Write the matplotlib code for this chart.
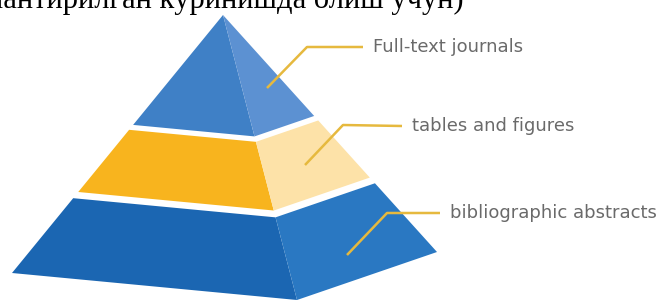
import matplotlib.pyplot as plt
import numpy as np

# pyramid outline (pixel space of the picture, y grows downward)
apex = (223, 15)
base_left = (12, 273)
base_mid = (297, 300)
base_right = (437, 252)

# tiers, top to bottom: fraction of the height from apex
tier_names = ["Full-text journals", "tables and figures", "bibliographic abstracts"]
tier_start = [0.0, 0.445, 0.71]
tier_end = [0.426, 0.686, 1.0]
left_colors = ["#3f80c6", "#f8b41e", "#1b66b2"]
right_colors = ["#5c91d2", "#fde2a8", "#2a78c2"]

# connector lines: start on face -> elbow -> end of horizontal
conn_start = [(267, 88), (305, 165), (347, 255)]
conn_elbow = [(307, 47), (343, 125), (387, 213)]
conn_end = [(363, 47), (402, 126), (440, 213)]

heading = "лантирилган кўринишда олиш учун)"


def lerp(p, q, t):
    return (p[0] + (q[0] - p[0]) * t, p[1] + (q[1] - p[1]) * t)


fig = plt.figure(figsize=(6.72, 3.03), dpi=100)
ax = fig.add_axes([0, 0, 1, 1])
ax.set_xlim(0, 672)
ax.set_ylim(303, 0)
ax.axis("off")

for i in range(len(tier_names)):
    t0, t1 = tier_start[i], tier_end[i]
    l0, l1 = lerp(apex, base_left, t0), lerp(apex, base_left, t1)
    m0, m1 = lerp(apex, base_mid, t0), lerp(apex, base_mid, t1)
    r0, r1 = lerp(apex, base_right, t0), lerp(apex, base_right, t1)
    ax.fill([l0[0], m0[0], m1[0], l1[0]], [l0[1], m0[1], m1[1], l1[1]],
            color=left_colors[i], lw=0)
    ax.fill([m0[0], r0[0], r1[0], m1[0]], [m0[1], r0[1], r1[1], m1[1]],
            color=right_colors[i], lw=0)

for i in range(len(tier_names)):
    xs = [conn_start[i][0], conn_elbow[i][0], conn_end[i][0]]
    ys = [conn_start[i][1], conn_elbow[i][1], conn_end[i][1]]
    ax.plot(xs, ys, color="#e6b93e", lw=1.8, solid_capstyle="butt")
    ax.text(conn_end[i][0] + 10, conn_end[i][1], tier_names[i],
            family="DejaVu Sans", fontsize=13, color="#6a6a6a",
            va="center", ha="left")

# heading is cut off by the top and left edges, as in the source page
ax.text(-12, 8, heading, family="Liberation Serif", fontsize=22,
        color="black", va="baseline", ha="left")

fig.savefig("out.png", dpi=100)
